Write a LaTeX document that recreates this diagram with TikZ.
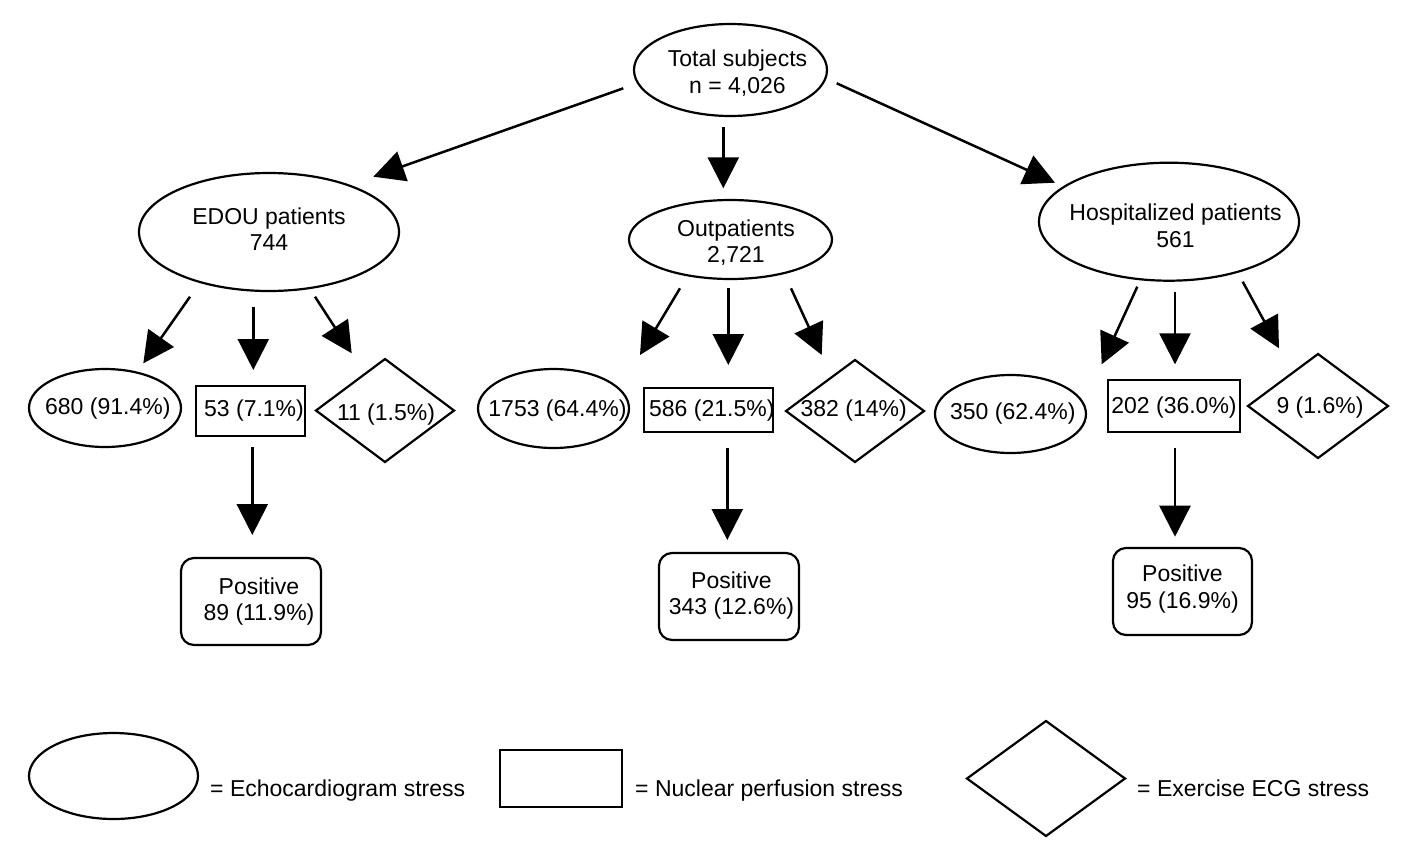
\documentclass[tikz,border=0pt]{standalone}
\usepackage{fontspec}
\setmainfont{Liberation Sans}
\usetikzlibrary{arrows.meta,shapes.geometric}
\newcommand\mytxt[3]{\makebox[0pt]{\kern#1\kern#1\raisebox{#2}[0pt][0pt]{#3}}}
\newcommand\mytwo[4]{\mytxt{#1}{#2}{\begin{tabular}[t]{@{}c@{}}#3\\#4\end{tabular}}}
\begin{document}
\begin{tikzpicture}[x=1pt,y=-1pt,
  font=\fontsize{23}{26.6}\selectfont,
  shp/.style={draw, line width=2.2pt, inner sep=0pt, outer sep=0pt},
  oval/.style={shp, ellipse},
  rbox/.style={shp, rectangle},
  dia/.style={shp, diamond},
  posbox/.style={shp, rectangle, rounded corners=13pt},
  arr/.style={line width=2.5pt, -{Triangle[length=31pt,width=31pt]}},
  legtext/.style={anchor=base west, inner sep=0pt}]
\useasboundingbox[fill=white] (0,0) rectangle (1417,863);

% top level
\node[oval, minimum width=193pt, minimum height=92pt] (total) at (730.5,70)
  {\mytwo{7pt}{3.3pt}{Total subjects}{n = 4,026}};
\node[oval, minimum width=260pt, minimum height=118pt] (edou) at (269,232)
  {\mytwo{0pt}{8pt}{EDOU patients}{744}};
\node[oval, minimum width=203pt, minimum height=79pt] (out) at (730.5,239.5)
  {\mytwo{5.5pt}{3.5pt}{Outpatients}{2,721}};
\node[oval, minimum width=260pt, minimum height=118pt] (hosp) at (1169,221.7)
  {\mytwo{6.5pt}{1pt}{Hospitalized patients}{561}};

% second level
\node[oval, minimum width=152pt, minimum height=78pt] (o680) at (105,408)
  {\mytxt{2.8pt}{-6pt}{680 (91.4\%)}};
\node[rbox, minimum width=109pt, minimum height=50pt] (r53) at (250.5,411)
  {\mytxt{3.5pt}{-5.7pt}{53 (7.1\%)}};
\node[dia, minimum width=138pt, minimum height=103pt] (d11) at (385,410.5)
  {\mytxt{1pt}{-10pt}{11 (1.5\%)}};

\node[oval, minimum width=151pt, minimum height=79pt] (o1753) at (553.5,408.5)
  {\mytxt{4pt}{-8pt}{1753 (64.4\%)}};
\node[rbox, minimum width=129pt, minimum height=44pt] (r586) at (708.5,410)
  {\mytxt{3.3pt}{-6.7pt}{586 (21.5\%)}};
\node[dia, minimum width=138pt, minimum height=102pt] (d382) at (855,411)
  {\mytxt{-1.3pt}{-5.7pt}{382 (14\%)}};

\node[oval, minimum width=151pt, minimum height=78pt] (o350) at (1010.5,414)
  {\mytxt{2.3pt}{-5.3pt}{350 (62.4\%)}};
\node[rbox, minimum width=132pt, minimum height=52pt] (r202) at (1174,406)
  {\mytxt{0pt}{-7.3pt}{202 (36.0\%)}};
\node[dia, minimum width=140pt, minimum height=104pt] (d9) at (1318,406)
  {\mytxt{2pt}{-7.3pt}{9 (1.6\%)}};

% positive boxes
\node[posbox, minimum width=140pt, minimum height=87pt] (p1) at (251,601.5)
  {\mytwo{8pt}{7.5pt}{Positive}{89 (11.9\%)}};
\node[posbox, minimum width=140pt, minimum height=87pt] (p2) at (729,596.5)
  {\mytwo{2.5pt}{8.2pt}{Positive}{343 (12.6\%)}};
\node[posbox, minimum width=139pt, minimum height=87pt] (p3) at (1182.5,591.5)
  {\mytwo{0pt}{9.8pt}{Positive}{95 (16.9\%)}};

% legend
\node[oval, minimum width=169pt, minimum height=86pt] (leg1) at (113.5,776) {};
\node[legtext] (leg1t) at (210,796.7) {= Echocardiogram stress};
\node[rbox, minimum width=122pt, minimum height=57pt] (leg2) at (561,778.5) {};
\node[legtext] (leg2t) at (635,796.7) {= Nuclear perfusion stress};
\node[dia, minimum width=158pt, minimum height=115pt] (leg3) at (1046,778.5) {};
\node[legtext] (leg3t) at (1137,796.7) {= Exercise ECG stress};

% connector end points
\coordinate (a0s) at (623.3,88.3);   \coordinate (a0e) at (373.3,176.7);
\coordinate (a1s) at (723.3,126.7);  \coordinate (a1e) at (723.3,188.3);
\coordinate (a2s) at (836.7,83.3);   \coordinate (a2e) at (1055,182.7);
\coordinate (a3s) at (190,296.7);    \coordinate (a3e) at (143.3,363.3);
\coordinate (a4s) at (253.3,306.7);  \coordinate (a4e) at (253.3,370);
\coordinate (a5s) at (315,296.7);    \coordinate (a5e) at (351.7,353.3);
\coordinate (a6s) at (680,288.3);    \coordinate (a6e) at (640,355);
\coordinate (a7s) at (728.3,288.3);  \coordinate (a7e) at (728.3,365);
\coordinate (a8s) at (791,288.3);    \coordinate (a8e) at (821.7,355);
\coordinate (a9s) at (1137.3,286.7); \coordinate (a9e) at (1101.7,364.3);
\coordinate (a10s) at (1175,291.7);  \coordinate (a10e) at (1175,364.3);
\coordinate (a11s) at (1242.7,281.7);\coordinate (a11e) at (1279,348.3);
\coordinate (a12s) at (252.3,447.3); \coordinate (a12e) at (252.3,535);
\coordinate (a13s) at (727.3,448.3); \coordinate (a13e) at (727.3,540);
\coordinate (a14s) at (1175,448.3);  \coordinate (a14e) at (1175,536.7);

\foreach \i in {0,...,14} {\draw[arr] (a\i s) -- (a\i e);}
\end{tikzpicture}
\end{document}
